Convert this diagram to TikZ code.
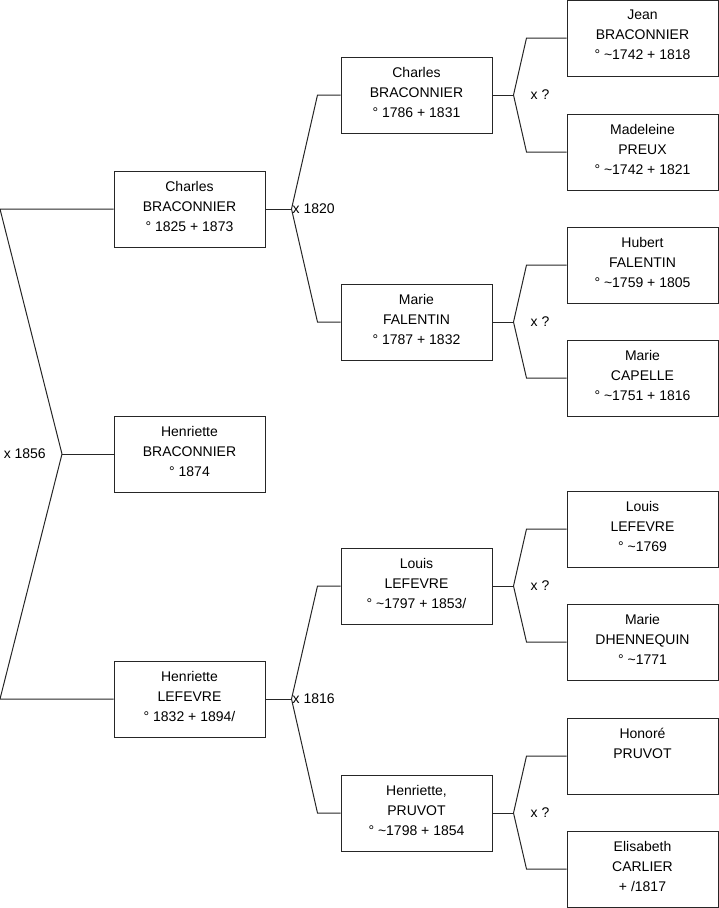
\documentclass[tikz,border=0pt]{standalone}
\usepackage{fontspec}
\setmainfont{Liberation Sans}
\usetikzlibrary{positioning}

\begin{document}
\begin{tikzpicture}[x=1pt, y=-1pt,
    person/.style={draw=black!85, line width=1pt, fill=white, minimum width=151pt, minimum height=76pt, inner sep=0pt, text depth=6pt, align=center, font=\fontsize{14}{20}\selectfont},
    link/.style={draw=black!85, line width=1pt},
    marr/.style={inner sep=1pt, font=\fontsize{14}{20}\selectfont}
]
\useasboundingbox (0,0) rectangle (719,908);

% child
\node[person] (child) at (189.5,454) {Henriette\\BRACONNIER\\° 1874};
% parents
\node[person] (father) at (189.5,209) {Charles\\BRACONNIER\\° 1825 + 1873};
\node[person] (mother) at (189.5,699) {Henriette\\LEFEVRE\\° 1832 + 1894/};
% grandparents
\node[person] (ff) at (416.5,95) {Charles\\BRACONNIER\\° 1786 + 1831};
\node[person] (fm) at (416.5,322) {Marie\\FALENTIN\\° 1787 + 1832};
\node[person] (mf) at (416.5,586) {Louis\\LEFEVRE\\° \textasciitilde1797 + 1853/};
\node[person] (mm) at (416.5,813) {Henriette,\\PRUVOT\\° \textasciitilde1798 + 1854};
% great-grandparents
\node[person] (fff) at (642.5,38) {Jean\\BRACONNIER\\° \textasciitilde1742 + 1818};
\node[person] (ffm) at (642.5,152) {Madeleine\\PREUX\\° \textasciitilde1742 + 1821};
\node[person] (fmf) at (642.5,265) {Hubert\\FALENTIN\\° \textasciitilde1759 + 1805};
\node[person] (fmm) at (642.5,378) {Marie\\CAPELLE\\° \textasciitilde1751 + 1816};
\node[person] (mff) at (642.5,529) {Louis\\LEFEVRE\\° \textasciitilde1769};
\node[person] (mfm) at (642.5,642) {Marie\\DHENNEQUIN\\° \textasciitilde1771};
\node[person] (mmf) at (642.5,756) {Honoré\\PRUVOT\\\mbox{}};
\node[person] (mmm) at (642.5,869) {Elisabeth\\CARLIER\\+ /1817};

% links
\coordinate (edge) at (0,0);
\coordinate (j0) at (62,454);
\draw[link] (child.west) -- (j0);
\foreach \p in {father,mother}
    \draw[link] (j0) -- (\p.west -| edge) -- (\p.west);
\foreach \c/\f/\m/\n/\a/\b in {father/ff/fm/j1/26/23, mother/mf/mm/j2/26/23,
    ff/fff/ffm/j3/21/40, fm/fmf/fmm/j4/21/40, mf/mff/mfm/j5/21/40, mm/mmf/mmm/j6/21/40}
{
    \draw[link] (\c.east) -- ++(\a,0) coordinate (\n);
    \foreach \p in {\f,\m}
        \draw[link] (\n) -- ([xshift=-\b pt]\p.west) -- (\p.west);
}

% marriages
\node[marr, left=15pt of j0] (m0) {x 1856};
\node[marr, right=0pt of j1] (m1) {x 1820};
\node[marr, right=0pt of j2] (m2) {x 1816};
\foreach \n in {j3,j4,j5,j6}
    \node[marr, right=16pt of \n] {x ?};
\end{tikzpicture}
\end{document}
